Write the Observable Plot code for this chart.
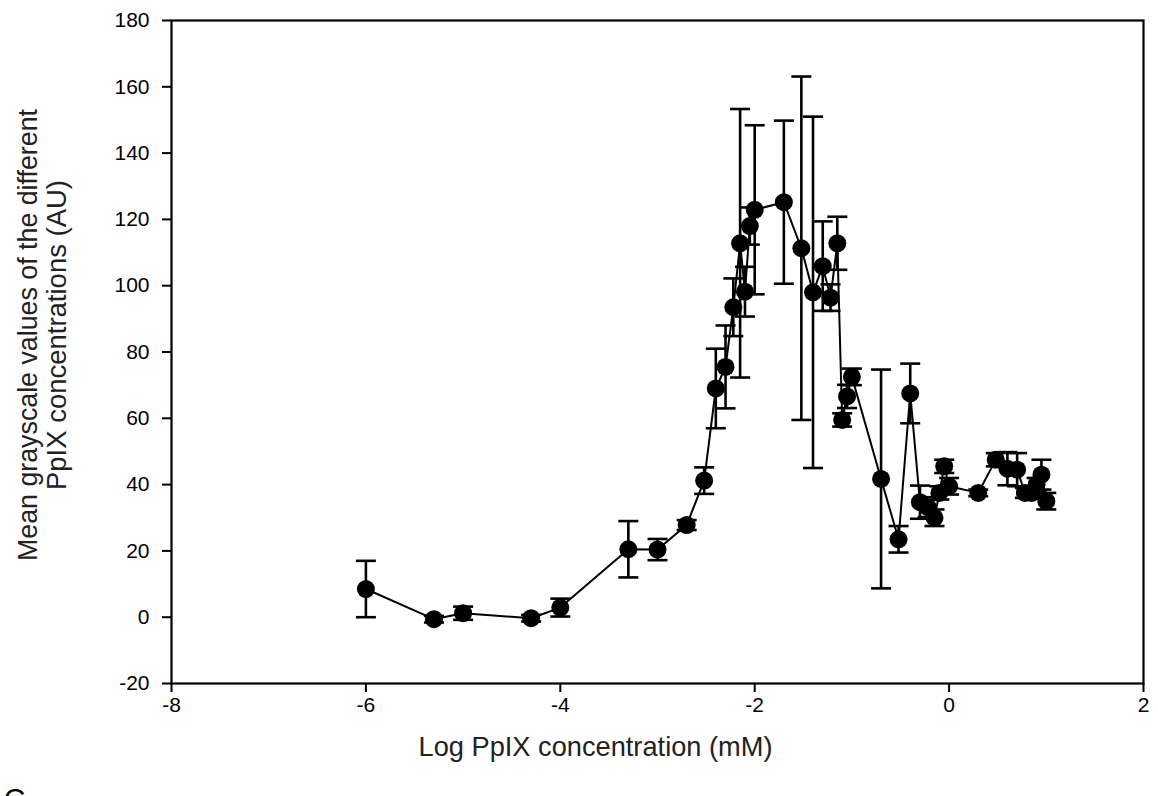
<!DOCTYPE html>
<html>
<head>
<meta charset="utf-8">
<script src="https://cdn.jsdelivr.net/npm/d3@7"></script>
<script src="https://cdn.jsdelivr.net/npm/@observablehq/plot@0.6"></script>
<style>
  html, body { margin: 0; padding: 0; background: #ffffff; }
  #chart { width: 1158px; height: 796px; overflow: hidden; }
</style>
</head>
<body>
<div id="chart"></div>
<script>
// Log10 of PpIX concentration (mM)
const logConc = [
  -6, -5.3, -5, -4.3, -4, -3.3, -3, -2.7, -2.52, -2.4,
  -2.3, -2.22, -2.15, -2.1, -2.05, -2, -1.7, -1.52, -1.4, -1.3,
  -1.22, -1.15, -1.1, -1.05, -1, -0.7, -0.52, -0.4, -0.3, -0.22,
  -0.15, -0.1, -0.05, 0, 0.3, 0.48, 0.6, 0.7, 0.78, 0.85,
  0.9, 0.95, 1
];
// Mean grayscale value (AU)
const meanGray = [
  8.5, -0.6, 1.2, -0.3, 2.9, 20.5, 20.4, 27.8, 41.2, 69,
  75.5, 93.5, 112.8, 98.2, 118, 122.9, 125.2, 111.3, 98, 105.9,
  96.4, 112.8, 59.5, 66.6, 72.5, 41.7, 23.5, 67.5, 34.7, 33.2,
  30, 37.5, 45.5, 39.5, 37.5, 47.5, 44.8, 44.5, 37.5, 37.5,
  40, 43, 35
];
// Error (half-length of the error bar, AU)
const errBar = [
  8.5, 1, 2, 1, 2.7, 8.5, 3.2, 1.5, 4, 12,
  12.5, 8.7, 40.5, 7.5, 5.6, 25.5, 24.6, 51.8, 53, 13.5,
  4, 8, 2, 3.5, 2.5, 33, 4, 9, 5, 3,
  2.5, 2, 2, 2.5, 1, 2, 5, 5, 1.5, 1,
  2, 4.5, 2.5
];
const xTicks = [-8, -6, -4, -2, 0, 2];
const yTicks = [-20, 0, 20, 40, 60, 80, 100, 120, 140, 160, 180];
const xTitle = "Log PpIX concentration (mM)";
const yTitleLine1 = "Mean grayscale values of the different";
const yTitleLine2 = "PpIX concentrations (AU)";
const panelLetter = "C";

const rows = logConc.map((x, i) => ({x, y: meanGray[i], e: errBar[i]}));

// horizontal cap symbol for error bars
const capSymbol = {
  draw(context, size) {
    const w = Math.sqrt(size / Math.PI);
    context.moveTo(-w, 0);
    context.lineTo(w, 0);
  }
};

const titleFont = "'Liberation Sans', Arial, sans-serif";

const chart = Plot.plot({
  width: 1158,
  height: 796,
  marginTop: 20,
  marginBottom: 113,
  marginLeft: 171,
  marginRight: 15,
  style: {fontFamily: "'Liberation Sans', Arial, sans-serif", background: "#ffffff", color: "#000000"},
  x: {domain: [-8, 2]},
  y: {domain: [-20, 180]},
  marks: [
    Plot.axisX({ticks: xTicks, tickSize: 9, tickPadding: 5, tickFormat: d => String(d), fontSize: 21, label: null, strokeWidth: 2}),
    Plot.axisY({ticks: yTicks, tickSize: 9, tickPadding: 13, tickFormat: d => String(d), fontSize: 21, label: null, strokeWidth: 2}),
    Plot.frame({stroke: "#000000", strokeWidth: 2.2}),
    Plot.ruleX(rows, {x: "x", y1: d => d.y - d.e, y2: d => d.y + d.e, stroke: "#000000", strokeWidth: 2.6}),
    Plot.dot(rows, {x: "x", y: d => d.y + d.e, symbol: capSymbol, r: 10, stroke: "#000000", strokeWidth: 2.6, fill: "none"}),
    Plot.dot(rows, {x: "x", y: d => d.y - d.e, symbol: capSymbol, r: 10, stroke: "#000000", strokeWidth: 2.6, fill: "none"}),
    Plot.line(rows, {x: "x", y: "y", stroke: "#000000", strokeWidth: 2}),
    Plot.dot(rows, {x: "x", y: "y", r: 9, fill: "#000000", stroke: "none"}),
    Plot.text([xTitle], {frameAnchor: "bottom", dx: -62, dy: 64, textAnchor: "middle", fontSize: 28, fontFamily: titleFont, fill: "#222222", lineAnchor: "middle"}),
    Plot.text([yTitleLine1], {frameAnchor: "left", dx: -143, dy: -17, rotate: -90, textAnchor: "middle", fontSize: 27, fontFamily: titleFont, fill: "#222222", lineAnchor: "middle"}),
    Plot.text([yTitleLine2], {frameAnchor: "left", dx: -114, dy: -17, rotate: -90, textAnchor: "middle", fontSize: 27, fontFamily: titleFont, fill: "#222222", lineAnchor: "middle"}),
    Plot.text([panelLetter], {frameAnchor: "bottom-left", dx: -157, dy: 104, textAnchor: "middle", fontSize: 30, lineAnchor: "top", fill: "#000000"})
  ]
});

// fit the axis titles to the exact lengths of the original
const sel = d3.select(chart);
const fitText = (content, len) => sel.selectAll("text")
  .filter(function () { return this.textContent === content; })
  .attr("textLength", len).attr("lengthAdjust", "spacingAndGlyphs");
fitText(xTitle, 354);
fitText(yTitleLine1, 452);
fitText(yTitleLine2, 310);

document.getElementById("chart").appendChild(chart);
</script>
</body>
</html>
